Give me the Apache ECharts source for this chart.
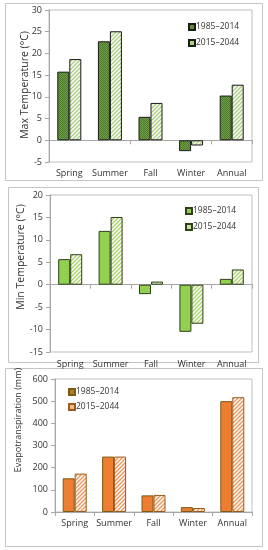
<!DOCTYPE html>
<html><head><meta charset="utf-8">
<script src="https://cdn.jsdelivr.net/npm/echarts@6/dist/echarts.min.js"></script>
<style>html,body{margin:0;padding:0;background:#fff}#c{width:268px;height:550px}</style>
</head><body><div id="c"></div>
<script>
const categories = ['Spring', 'Summer', 'Fall', 'Winter', 'Annual'];
const periods = ['1985\u20132014', '2015\u20132044'];
const maxTempBase = [15.8, 22.8, 5.4, -2.5, 10.3];
const maxTempFuture = [18.7, 25.1, 8.6, -1.2, 12.8];
const minTempBase = [5.7, 12.0, -2.1, -10.5, 1.3];
const minTempFuture = [6.8, 15.1, 0.7, -8.7, 3.4];
const etBase = [152, 250, 75, 22, 500];
const etFuture = [173, 250, 77, 18, 518];
const titles = ['Max Temperature (\u00B0C)', 'Min Temperature (\u00B0C)', 'Evapotranspiration (mm)'];

function stripes(fg, bg) {
  const c = document.createElement('canvas'); c.width = 4; c.height = 4;
  const x = c.getContext('2d');
  x.fillStyle = bg; x.fillRect(0, 0, 4, 4);
  x.strokeStyle = fg; x.lineWidth = 1.4;
  x.beginPath();
  x.moveTo(-1, 5); x.lineTo(5, -1);
  x.moveTo(-1, 1); x.lineTo(1, -1);
  x.moveTo(3, 5); x.lineTo(5, 3);
  x.stroke();
  return { image: c, repeat: 'repeat' };
}
function checker(a, b) {
  const c = document.createElement('canvas'); c.width = 2; c.height = 2;
  const x = c.getContext('2d');
  x.fillStyle = a; x.fillRect(0, 0, 2, 2);
  x.fillStyle = b; x.fillRect(0, 0, 1, 1); x.fillRect(1, 1, 1, 1);
  return { image: c, repeat: 'repeat' };
}

const font = "'Open Sans'";
const lab = { color: '#333', fontSize: 9, fontFamily: font };
const catLab = { color: '#333', fontSize: 9, fontFamily: font, interval: 0 };
const gridColor = '#bfbfbf';
const axisColor = '#a6a6a6';

const grids = [
  { left: 49, top: 10, width: 203, height: 152, show: true, borderColor: gridColor, borderWidth: 1 },
  { left: 50, top: 195, width: 202, height: 157, show: true, borderColor: gridColor, borderWidth: 1 },
  { left: 55, top: 379, width: 197, height: 133, show: true, borderColor: gridColor, borderWidth: 1 }
];
const yRanges = [[-5, 30, 5], [-15, 20, 5], [0, 600, 100]];

const yAxis = yRanges.map((r, i) => ({
  gridIndex: i, type: 'value', min: r[0], max: r[1], interval: r[2],
  axisLine: { show: true, lineStyle: { color: axisColor } },
  axisTick: { show: true, length: 4, lineStyle: { color: axisColor } },
  axisLabel: Object.assign({ margin: 7 }, lab),
  splitLine: { show: false }
}));

const xAxis = [
  { gridIndex: 0, type: 'category', data: categories, axisLine: { onZero: true, lineStyle: { color: axisColor } },
    axisTick: { show: true, length: 4, lineStyle: { color: axisColor } }, axisLabel: { show: false } },
  { gridIndex: 0, type: 'category', data: categories, position: 'bottom', axisLine: { show: false, onZero: false },
    axisTick: { show: false }, axisLabel: Object.assign({ margin: 7 }, catLab) },
  { gridIndex: 1, type: 'category', data: categories, axisLine: { onZero: true, lineStyle: { color: axisColor } },
    axisTick: { show: true, length: 4, lineStyle: { color: axisColor } }, axisLabel: Object.assign({ margin: 8 }, catLab) },
  { gridIndex: 2, type: 'category', data: categories, axisLine: { onZero: true, lineStyle: { color: axisColor } },
    axisTick: { show: true, length: 4, lineStyle: { color: axisColor } }, axisLabel: Object.assign({ margin: 7 }, catLab) }
];

function bar(name, data, xi, yi, color, border) {
  return { type: 'bar', name: name, data: data, xAxisIndex: xi, yAxisIndex: yi, barWidth: 12, barGap: '0%',
    itemStyle: { color: color, borderColor: border, borderWidth: 1 } };
}

const series = [
  bar(periods[0], maxTempBase, 0, 0, checker('#6f9f47', '#4c7a2a'), '#1a1a1a'),
  bar(periods[1], maxTempFuture, 0, 0, stripes('#a9cf7f', '#ffffff'), '#1a1a1a'),
  bar(periods[0], minTempBase, 2, 1, '#92d050', '#2f3f1a'),
  bar(periods[1], minTempFuture, 2, 1, stripes('#a9d46a', '#ffffff'), '#2f3f1a'),
  bar(periods[0], etBase, 3, 2, '#ed7d31', '#7a5a14'),
  bar(periods[1], etFuture, 3, 2, stripes('#f0955a', '#ffffff'), '#9a5a1a')
];

function legendFor(left, top, gap, items) {
  return { data: items, orient: 'vertical', left: left, top: top, padding: 0,
    itemWidth: 6, itemHeight: 6, itemGap: gap, icon: 'rect',
    textStyle: { color: '#333', fontSize: 8.5, lineHeight: 10, fontFamily: font, padding: [0, 0, 0, -4] },
    selectedMode: false };
}

const frames = [[5, 3, 257, 177], [8, 187, 250, 175], [5, 368, 257, 178]].map(f => ({
  type: 'rect', shape: { x: f[0] + 0.5, y: f[1] + 0.5, width: f[2], height: f[3] }, silent: true,
  style: { fill: null, stroke: '#c4c4c4', lineWidth: 1 }, z: -1
}));
const titlePos = [[25, 85, 10.5], [21, 257, 10.5], [18, 420, 9]];
const titleTexts = titles.map((t, i) => ({
  type: 'text', x: titlePos[i][0], y: titlePos[i][1], rotation: Math.PI / 2, silent: true,
  style: { text: t, fill: '#333', font: titlePos[i][2] + "px 'Open Sans'", align: 'center', verticalAlign: 'middle' }
}));

const chart = echarts.init(document.getElementById('c'), null, { renderer: 'canvas' });
chart.setOption({
  animation: false,
  textStyle: { fontFamily: font },
  graphic: frames.concat(titleTexts),
  grid: grids, xAxis: xAxis, yAxis: yAxis, series: series,
  legend: [
    legendFor(188, 22, 6, [{ name: periods[0], itemStyle: { color: '#5e8d3a', borderColor: '#1a1a1a' } }, { name: periods[1], itemStyle: { color: '#a9cf7f', borderColor: '#1a1a1a' } }]),
    legendFor(185, 206, 6, [{ name: periods[0], itemStyle: { color: '#92d050', borderColor: '#2f3f1a' } }, { name: periods[1], itemStyle: { color: '#c5e39c', borderColor: '#2f3f1a' } }]),
    legendFor(68, 387, 5, [{ name: periods[0], itemStyle: { color: '#a8802a', borderColor: '#7a5a14' } }, { name: periods[1], itemStyle: { color: '#f5b98c', borderColor: '#9a5a1a' } }])
  ]
});
</script></body></html>
